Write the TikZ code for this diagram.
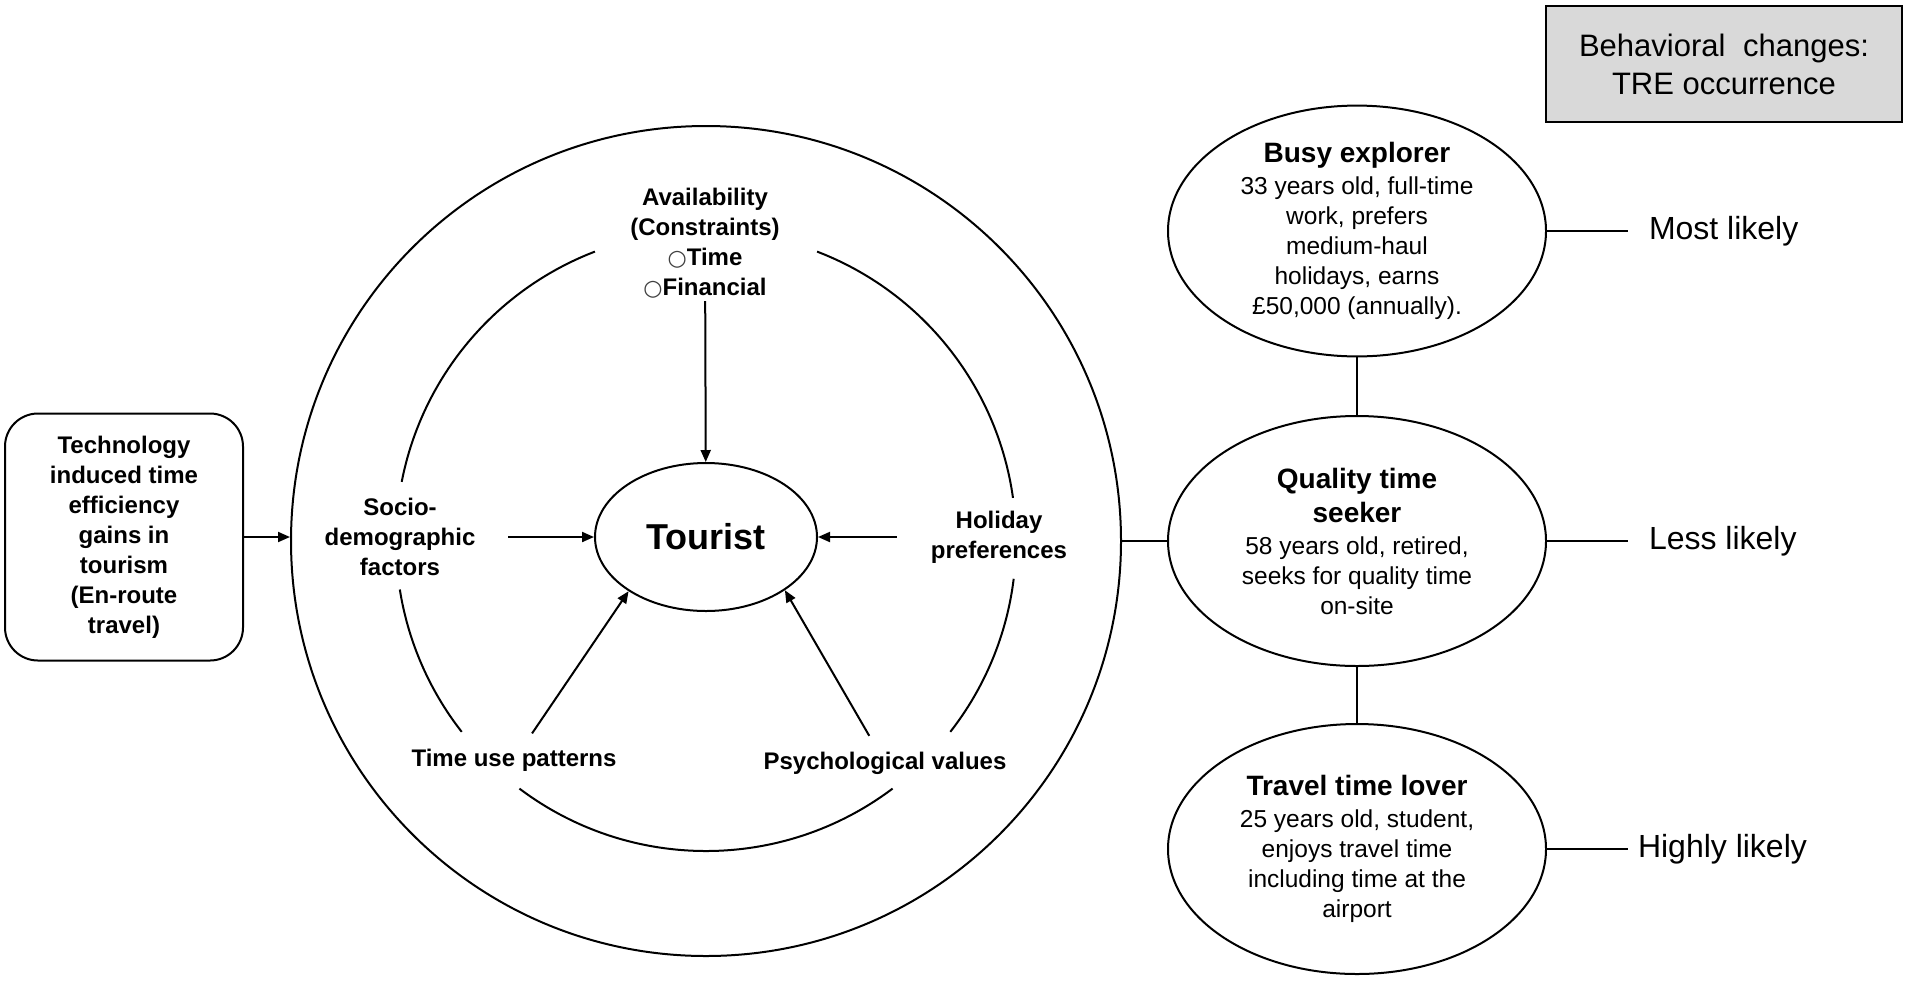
\documentclass[tikz,border=0pt]{standalone}
\usepackage{fontspec}
\setmainfont{Liberation Sans}
\newfontfamily\symfont{DejaVu Sans}
\usepackage{tikz}
\usetikzlibrary{arrows.meta}
\usetikzlibrary{shapes.geometric,positioning,calc}
\definecolor{boxgray}{RGB}{217,217,217}
\newcommand{\hollowbullet}{{\symfont\fontsize{22}{22}\selectfont\textcolor{darkgray}{○}}}
\tikzset{
	lbl/.style={align=center,inner sep=2pt,font=\fontsize{24}{30}\selectfont\bfseries},
	persona/.style={ellipse,draw,line width=2pt,minimum width=378pt,minimum height=250pt,inner sep=0pt,align=center,font=\fontsize{24.5}{30}\selectfont},
	likely/.style={anchor=west,inner ysep=0pt,inner xsep=20pt,font=\fontsize{32}{38}\selectfont},
	arr/.style={line width=2pt,-{Triangle[length=12pt,width=10pt]}},
}

\begin{document}
\begin{tikzpicture}[x=1pt,y=1pt,line width=2pt]
	\useasboundingbox (0,0) rectangle (1910,-986);

	\begin{scope}[every node/.style={draw,line width=2pt}]
		\node[rounded corners=33pt,minimum width=238pt,minimum height=247pt,align=center,font=\fontsize{24}{30}\selectfont\bfseries] (tech) at (124,-537) {Technology\\induced time\\efficiency\\gains in\\tourism\\(En-route\\travel)};
		\node[circle,minimum size=830pt,inner sep=0pt] (outer) at (706,-541) {};
		\node[ellipse,minimum width=222pt,minimum height=148pt,inner sep=0pt,font=\fontsize{36}{40}\selectfont\bfseries] (tourist) at (706,-537) {Tourist};
		\node[fill=boxgray,minimum width=356pt,minimum height=116pt,align=center,font=\fontsize{31}{38}\selectfont] (behav) at (1724,-64) {Behavioral\hspace{9pt} changes:\\TRE occurrence};
	\end{scope}

	% inner ring, broken around the labels
	\coordinate (mid) at (706,-541);
	\draw (mid) ++(8:310) arc[start angle=8,end angle=69,radius=310];
	\draw (mid) ++(111:310) arc[start angle=111,end angle=169,radius=310];
	\draw (mid) ++(189:310) arc[start angle=189,end angle=218,radius=310];
	\draw (mid) ++(233:310) arc[start angle=233,end angle=307,radius=310];
	\draw (mid) ++(322:310) arc[start angle=322,end angle=353,radius=310];

	\begin{scope}[every node/.style={lbl}]
		\node (avail) at (705,-243) {Availability\\(Constraints)\\\hollowbullet Time\\\hollowbullet Financial};
		\node (socio) at (400,-537) {Socio-\\demographic\\factors};
		\node (holiday) at (999,-537) {Holiday\\preferences};
		\node (timeuse) at (514,-760) {Time use patterns};
		\node (psych) at (885,-763) {Psychological values};
	\end{scope}

	\draw[arr] (tech.east) -- (tech.east -| outer.west);
	\draw[arr] (avail) -- (tourist);
	\draw[arr,shorten <=30pt] (socio.east) -- (tourist.west);
	\draw[arr,shorten <=31pt] (holiday.west) -- (tourist.east);
	\draw[arr,shorten <=15pt] (timeuse) -- (tourist.215);
	\draw[arr,shorten <=15pt] (psych) -- (tourist.326);

	\begin{scope}[every node/.style={persona}]
		\node (busy) at (1357,-231) {{\fontsize{28}{34}\selectfont\bfseries Busy explorer}\\[2pt]33 years old, full-time\\work, prefers\\medium-haul\\holidays, earns\\£50,000 (annually).};
		\node (quality) at (1357,-541) {{\fontsize{28}{34}\selectfont\bfseries Quality time}\\[4pt]{\fontsize{28}{34}\selectfont\bfseries seeker}\\[2pt]58 years old, retired,\\seeks for quality time\\on-site};
		\node (travel) at (1357,-849) {{\fontsize{28}{34}\selectfont\bfseries Travel time lover}\\[2pt]25 years old, student,\\enjoys travel time\\including time at the\\airport};
	\end{scope}

	\draw (outer.east) -- (quality.west);
	\draw (busy) -- (quality);
	\draw (quality) -- (travel);

	\node[likely] (most) at (1628,-231) {Most likely};
	\node[likely] (less) at (1628,-541) {Less likely};
	\node[likely,inner xsep=9pt] (highly) at (1628,-849) {Highly likely};
	\draw (busy.east) -- (most.west);
	\draw (quality.east) -- (less.west);
	\draw (travel.east) -- (highly.west);
\end{tikzpicture}
\end{document}
